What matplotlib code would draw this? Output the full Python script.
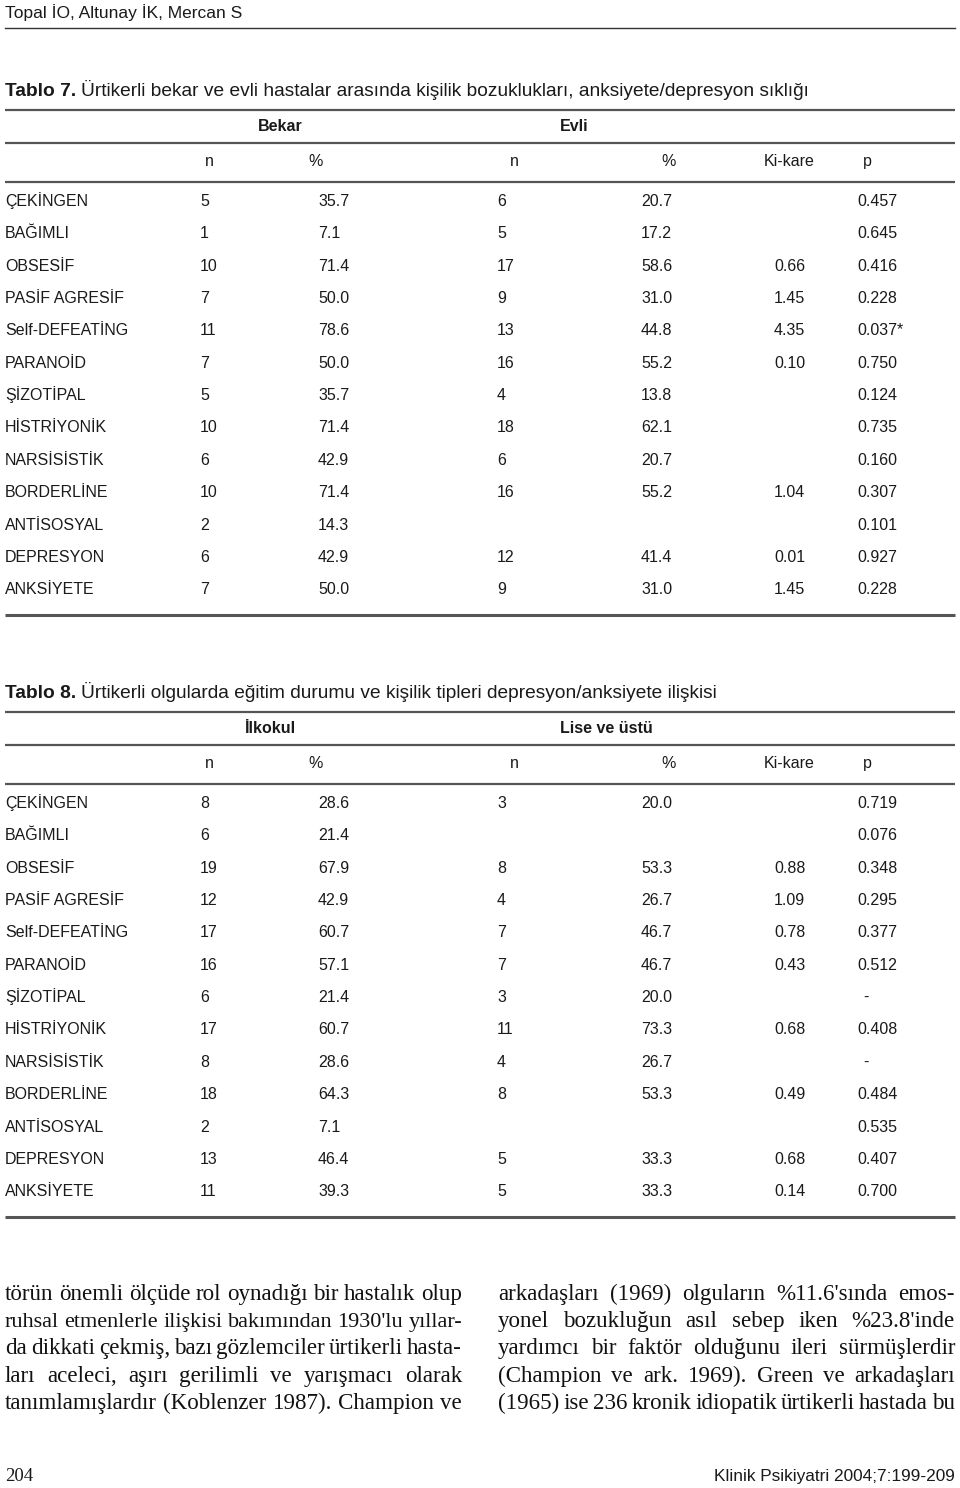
import matplotlib
matplotlib.use("Agg")
import matplotlib.pyplot as plt

SANS = "Liberation Sans"
SERIF = "Liberation Serif"

header_text = "Topal İO, Altunay İK, Mercan S"
footer_left = "204"
footer_right = "Klinik Psikiyatri 2004;7:199-209"

title7 = "Ürtikerli bekar ve evli hastalar arasında kişilik bozuklukları, anksiyete/depresyon sıklığı"
groups7 = ["Bekar", "Evli"]
names7 = ["ÇEKİNGEN", "BAĞIMLI", "OBSESİF", "PASİF AGRESİF", "Self-DEFEATİNG", "PARANOİD",
          "ŞİZOTİPAL", "HİSTRİYONİK", "NARSİSİSTİK", "BORDERLİNE", "ANTİSOSYAL",
          "DEPRESYON", "ANKSİYETE"]
bekar_n = ["5", "1", "10", "7", "11", "7", "5", "10", "6", "10", "2", "6", "7"]
bekar_pct = ["35.7", "7.1", "71.4", "50.0", "78.6", "50.0", "35.7", "71.4", "42.9", "71.4", "14.3", "42.9", "50.0"]
evli_n = ["6", "5", "17", "9", "13", "16", "4", "18", "6", "16", "", "12", "9"]
evli_pct = ["20.7", "17.2", "58.6", "31.0", "44.8", "55.2", "13.8", "62.1", "20.7", "55.2", "", "41.4", "31.0"]
chi7 = ["", "", "0.66", "1.45", "4.35", "0.10", "", "", "", "1.04", "", "0.01", "1.45"]
p7 = ["0.457", "0.645", "0.416", "0.228", "0.037*", "0.750", "0.124", "0.735", "0.160",
      "0.307", "0.101", "0.927", "0.228"]

title8 = "Ürtikerli olgularda eğitim durumu ve kişilik tipleri depresyon/anksiyete ilişkisi"
groups8 = ["İlkokul", "Lise ve üstü"]
names8 = names7
ilk_n = ["8", "6", "19", "12", "17", "16", "6", "17", "8", "18", "2", "13", "11"]
ilk_pct = ["28.6", "21.4", "67.9", "42.9", "60.7", "57.1", "21.4", "60.7", "28.6", "64.3", "7.1", "46.4", "39.3"]
lise_n = ["3", "", "8", "4", "7", "7", "3", "11", "4", "8", "", "5", "5"]
lise_pct = ["20.0", "", "53.3", "26.7", "46.7", "46.7", "20.0", "73.3", "26.7", "53.3", "", "33.3", "33.3"]
chi8 = ["", "", "0.88", "1.09", "0.78", "0.43", "", "0.68", "", "0.49", "", "0.68", "0.14"]
p8 = ["0.719", "0.076", "0.348", "0.295", "0.377", "0.512", "-", "0.408", "-", "0.484",
      "0.535", "0.407", "0.700"]

col_heads = ["n", "%", "n", "%", "Ki-kare", "p"]

left_lines = [
    "törün önemli ölçüde rol oynadığı bir hastalık olup",
    "ruhsal etmenlerle ilişkisi bakımından 1930'lu yıllar-",
    "da dikkati çekmiş, bazı gözlemciler ürtikerli hasta-",
    "ları aceleci, aşırı gerilimli ve yarışmacı olarak",
    "tanımlamışlardır (Koblenzer 1987). Champion ve",
]
right_lines = [
    "arkadaşları (1969) olguların %11.6'sında emos-",
    "yonel bozukluğun asıl sebep iken %23.8'inde",
    "yardımcı bir faktör olduğunu ileri sürmüşlerdir",
    "(Champion ve ark. 1969). Green ve arkadaşları",
    "(1965) ise 236 kronik idiopatik ürtikerli hastada bu",
]

fig = plt.figure(figsize=(9.6, 14.88), dpi=100)
ax = fig.add_axes([0, 0, 1, 1])
ax.set_xlim(0, 960)
ax.set_ylim(1488, 0)
ax.axis("off")
renderer = fig.canvas.get_renderer()

FS = 11.5
TXT = "#1a1a1a"
RULE = "#555555"


def width(s, **kw):
    t = ax.text(0, 0, s, **kw)
    w = t.get_window_extent(renderer).width
    t.remove()
    return w


def rule(y, lw=1.6):
    ax.plot([5, 955], [y, y], color=RULE, lw=lw, solid_capstyle="butt")


def title(y, label, rest):
    ax.text(5, y, label, fontsize=13.8, family=SANS, fontweight="bold", color=TXT, va="baseline")
    w = width(label, fontsize=13.8, family=SANS, fontweight="bold")
    ax.text(5 + w + 5, y, rest, fontsize=13.8, family=SANS, color=TXT, va="baseline")


def table(top, tlabel, ttitle, groups, group_x, columns):
    title(top - 14, tlabel, ttitle)
    rule(top)
    for g, gx in zip(groups, group_x):
        ax.text(gx, top + 21, g, fontsize=FS, family=SANS, fontweight="bold", color=TXT, va="baseline")
    rule(top + 33)
    head_x = [209, 316, 514, 669, 789, 867]
    for h, hx in zip(col_heads, head_x):
        ax.text(hx, top + 56, h, fontsize=FS, family=SANS, color=TXT, va="baseline", ha="center")
    rule(top + 72)
    col_x = [5, 200, 318, 497, 641, 774, 857]
    row_y0 = top + 96
    for col, cx in zip(columns, col_x):
        for i, v in enumerate(col):
            if v == "-":
                ax.text(cx + 6, row_y0 + i * 32.35, v, fontsize=FS, family=SANS, color=TXT, va="baseline")
            else:
                ax.text(cx, row_y0 + i * 32.35, v, fontsize=FS, family=SANS, color=TXT, va="baseline")
    rule(top + 505, lw=2.2)


def justify(lines, x0, x1, y0, dy):
    for k, line in enumerate(lines):
        words = line.split()
        fs = 16.6
        while True:
            kw = dict(fontsize=fs, family=SERIF, color="#111111")
            ws = [width(w, **kw) for w in words]
            gap = (x1 - x0 - sum(ws)) / (len(words) - 1)
            if gap >= 4.0 or fs < 12:
                break
            fs -= 0.2
        x = x0
        for w, wd in zip(words, ws):
            ax.text(x, y0 + k * dy, w, va="baseline", **kw)
            x += wd + gap


# page header
ax.text(5, 18, header_text, fontsize=12.5, family=SANS, color=TXT, va="baseline")
ax.plot([5, 955], [28, 28], color="#333333", lw=1.0)

table(110, "Tablo 7.", title7, groups7, [258, 560],
      [names7, bekar_n, bekar_pct, evli_n, evli_pct, chi7, p7])
table(712, "Tablo 8.", title8, groups8, [245, 560],
      [names8, ilk_n, ilk_pct, lise_n, lise_pct, chi8, p8])

justify(left_lines, 5, 462, 1300, 27.2)
justify(right_lines, 498, 955, 1300, 27.2)

ax.text(5, 1481, footer_left, fontsize=13.5, family=SERIF, color=TXT, va="baseline")
ax.text(955, 1481, footer_right, fontsize=12.4, family=SANS, color=TXT, va="baseline", ha="right")

fig.savefig("out.png", dpi=100)
